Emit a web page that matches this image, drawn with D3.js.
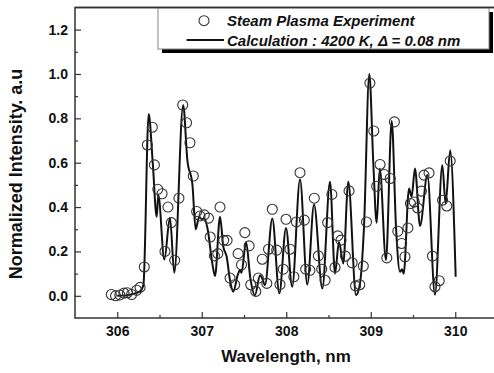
<!DOCTYPE html>
<html>
<head>
<meta charset="utf-8">
<script src="https://cdn.jsdelivr.net/npm/d3@7"></script>
<style>
  body { margin: 0; background: #fff; }
  svg { display: block; font-family: "Liberation Sans", Arial, sans-serif; }
</style>
</head>
<body>
<div id="chart"></div>
<script>
// Experimental points (circles)
const expWavelength = [305.93, 305.98, 306.03, 306.08, 306.12, 306.17, 306.23, 306.27, 306.32, 306.356,
  306.415, 306.44, 306.48, 306.53, 306.565, 306.60, 306.64, 306.68, 306.73, 306.775,
  306.82, 306.86, 306.90, 306.94, 306.98, 307.03, 307.08, 307.10, 307.15, 307.19,
  307.216, 307.26, 307.30, 307.335, 307.39, 307.43, 307.47, 307.51, 307.56, 307.58,
  307.64, 307.67, 307.716, 307.77, 307.79, 307.835, 307.887, 307.926, 307.965, 307.997,
  308.044, 308.09, 308.12, 308.163, 308.214, 308.23, 308.28, 308.332, 308.38, 308.42,
  308.46, 308.49, 308.54, 308.577, 308.61, 308.648, 308.70, 308.743, 308.78, 308.82,
  308.87, 308.912, 308.95, 308.99, 309.036, 309.07, 309.11, 309.16, 309.19, 309.23,
  309.28, 309.32, 309.366, 309.405, 309.44, 309.47, 309.515, 309.555, 309.60, 309.63,
  309.69, 309.73, 309.76, 309.81, 309.85, 309.90, 309.94];
const expIntensity = [0.006, 0.0, 0.004, 0.012, 0.014, 0.006, 0.025, 0.038, 0.13, 0.68,
  0.76, 0.59, 0.48, 0.46, 0.20, 0.40, 0.33, 0.16, 0.44, 0.86,
  0.78, 0.69, 0.54, 0.38, 0.36, 0.365, 0.35, 0.265, 0.18, 0.19,
  0.40, 0.25, 0.25, 0.08, 0.05, 0.19, 0.14, 0.285, 0.225, 0.05,
  0.02, 0.08, 0.165, 0.056, 0.21, 0.39, 0.206, 0.051, 0.12, 0.345,
  0.21, 0.086, 0.333, 0.555, 0.341, 0.12, 0.115, 0.44, 0.18, 0.12,
  0.07, 0.33, 0.457, 0.128, 0.27, 0.251, 0.179, 0.473, 0.149, 0.045,
  0.05, 0.134, 0.333, 0.959, 0.743, 0.494, 0.592, 0.547, 0.171, 0.529,
  0.784, 0.291, 0.236, 0.176, 0.306, 0.416, 0.423, 0.396, 0.472, 0.544,
  0.554, 0.179, 0.041, 0.068, 0.431, 0.405, 0.608];

// Calculated spectrum (line), read at peaks, valleys and shoulders
const calcWavelength = [306.0, 306.1, 306.2, 306.27, 306.31, 306.372, 306.42, 306.467, 306.486, 306.557,
  306.624, 306.675, 306.78, 306.83, 306.89, 306.928, 306.97, 307.0, 307.03, 307.07,
  307.125, 307.157, 307.216, 307.255, 307.295, 307.334, 307.373, 307.425, 307.453, 307.47,
  307.524, 307.575, 307.63, 307.69, 307.716, 307.748, 307.835, 307.918, 307.997, 308.07,
  308.163, 308.249, 308.329, 308.427, 308.518, 308.577, 308.624, 308.675, 308.734, 308.826,
  308.873, 308.92, 308.983, 309.03, 309.07, 309.107, 309.18, 309.248, 309.30, 309.346,
  309.37, 309.39, 309.453, 309.484, 309.523, 309.583, 309.67, 309.76, 309.847, 309.886,
  309.94, 310.005];
const calcIntensity = [0.0, 0.002, 0.01, 0.02, 0.05, 0.82, 0.6, 0.356, 0.454, 0.164,
  0.352, 0.104, 0.86, 0.61, 0.50, 0.30, 0.356, 0.345, 0.35, 0.30,
  0.146, 0.089, 0.356, 0.221, 0.176, 0.071, 0.018, 0.093, 0.116, 0.104,
  0.243, 0.08, 0.003, 0.093, 0.078, 0.048, 0.349, 0.011, 0.306, 0.041,
  0.524, 0.051, 0.412, 0.033, 0.514, 0.10, 0.243, 0.146, 0.514, 0.003,
  0.056, 0.31, 1.0, 0.6, 0.329, 0.574, 0.161, 0.788, 0.3, 0.108,
  0.12, 0.10, 0.484, 0.446, 0.574, 0.315, 0.544, 0.005, 0.589, 0.416,
  0.656, 0.086];

const xTicks = [306, 307, 308, 309, 310];
const xMinorTicks = [306.5, 307.5, 308.5, 309.5];
const yTicks = [0.0, 0.2, 0.4, 0.6, 0.8, 1.0, 1.2];
const yMinorTicks = [0.1, 0.3, 0.5, 0.7, 0.9, 1.1];

const legendLabels = ["Steam Plasma Experiment", "Calculation : 4200 K, \u0394 = 0.08 nm"];

const width = 494, height = 373;
const plotLeft = 75, plotBottom = 318, plotTop = 7.4, plotRight = 497.5;

const svg = d3.select("#chart").append("svg")
  .attr("width", width)
  .attr("height", height);

const x = d3.scaleLinear().domain([305.5, 310.5]).range([plotLeft, plotRight]);
const y = d3.scaleLinear().domain([-0.1, 1.3]).range([plotBottom, plotTop]);

const axisColor = "#333";

// X axis (ticks point inward)
const gx = svg.append("g")
  .attr("transform", `translate(0,${plotBottom})`)
  .call(d3.axisBottom(x).tickValues(xTicks).tickSize(-6).tickSizeOuter(0).tickPadding(8).tickFormat(d3.format("d")));
gx.append("g")
  .call(d3.axisBottom(x).tickValues(xMinorTicks).tickSize(-3).tickSizeOuter(0).tickFormat(""));

// Y axis
const gy = svg.append("g")
  .attr("transform", `translate(${plotLeft},0)`)
  .call(d3.axisLeft(y).tickValues(yTicks).tickSize(-6).tickSizeOuter(0).tickPadding(7).tickFormat(d3.format(".1f")));
gy.append("g")
  .call(d3.axisLeft(y).tickValues(yMinorTicks).tickSize(-3).tickSizeOuter(0).tickFormat(""));

svg.selectAll(".domain").remove();
svg.selectAll(".tick line").attr("stroke", axisColor).attr("stroke-width", 1.2);
svg.selectAll(".tick text")
  .attr("font-size", 14)
  .attr("font-weight", "bold")
  .attr("fill", "#111");

// Frame
svg.append("path")
  .attr("d", `M${plotRight},${plotTop}H${plotLeft}V${plotBottom}H${plotRight}`)
  .attr("fill", "none")
  .attr("stroke", axisColor)
  .attr("stroke-width", 1.5);

// Calculated line
const line = d3.line()
  .x((d, i) => x(calcWavelength[i]))
  .y(d => y(d))
  .curve(d3.curveMonotoneX);

svg.append("path")
  .datum(calcIntensity)
  .attr("fill", "none")
  .attr("stroke", "#111")
  .attr("stroke-width", 2)
  .attr("stroke-linejoin", "round")
  .attr("d", line);

// Experimental circles
svg.append("g")
  .selectAll("circle")
  .data(expIntensity)
  .join("circle")
  .attr("cx", (d, i) => x(expWavelength[i]))
  .attr("cy", d => y(d))
  .attr("r", 5)
  .attr("fill", "none")
  .attr("stroke", "#333")
  .attr("stroke-width", 1.1);

// Legend
const lg = svg.append("g");
lg.append("rect")
  .attr("x", 162).attr("y", 12)
  .attr("width", 331).attr("height", 41)
  .attr("fill", "#000");
lg.append("rect")
  .attr("x", 158).attr("y", 8)
  .attr("width", 331).attr("height", 41)
  .attr("fill", "#fff")
  .attr("stroke", "#888")
  .attr("stroke-width", 1);
svg.append("line")
  .attr("x1", plotLeft).attr("x2", width)
  .attr("y1", plotTop).attr("y2", plotTop)
  .attr("stroke", axisColor).attr("stroke-width", 1.5);

lg.append("circle")
  .attr("cx", 204).attr("cy", 20.7).attr("r", 5)
  .attr("fill", "none").attr("stroke", "#333").attr("stroke-width", 1.1);
lg.append("line")
  .attr("x1", 186.5).attr("x2", 224)
  .attr("y1", 40).attr("y2", 40)
  .attr("stroke", "#111").attr("stroke-width", 2);

lg.selectAll("text.leg")
  .data(legendLabels)
  .join("text")
  .attr("class", "leg")
  .attr("x", 227)
  .attr("y", (d, i) => 26 + i * 19.5)
  .attr("font-size", 15)
  .attr("font-weight", "bold")
  .attr("font-style", "italic")
  .attr("fill", "#111")
  .text(d => d);

// Axis titles
svg.append("text")
  .attr("x", 286).attr("y", 362)
  .attr("text-anchor", "middle")
  .attr("font-size", 17)
  .attr("font-weight", "bold")
  .attr("fill", "#111")
  .text("Wavelength, nm");

svg.append("text")
  .attr("transform", "translate(22,174) rotate(-90)")
  .attr("text-anchor", "middle")
  .attr("font-size", 18)
  .attr("font-weight", "bold")
  .attr("fill", "#111")
  .text("Normalized Intensity. a.u");
</script>
</body>
</html>
